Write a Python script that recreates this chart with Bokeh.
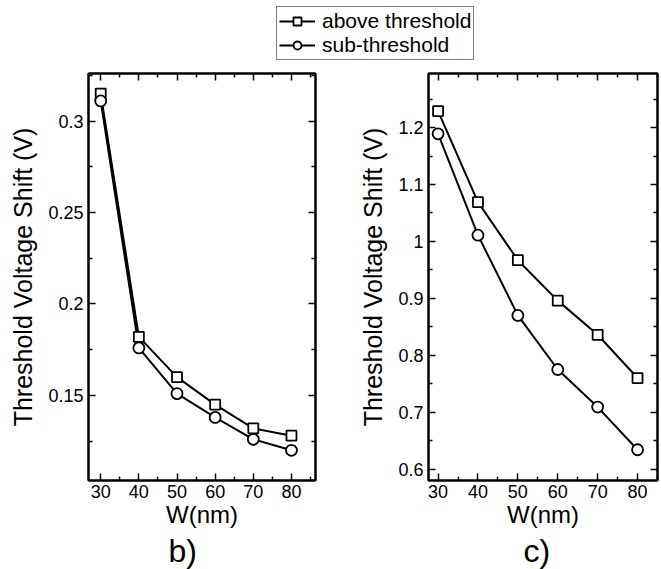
from bokeh.plotting import figure
from bokeh.models import (FixedTicker, LinearAxis, CustomJSTickFormatter, Legend,
                          LegendItem, Title, ColumnDataSource, Range1d)
from bokeh.layouts import column, row
from bokeh.embed import file_html
from bokeh.resources import INLINE

# ---- data ----
w_nm = [30, 40, 50, 60, 70, 80]
b_above = [0.315, 0.182, 0.160, 0.145, 0.132, 0.128]
b_sub = [0.311, 0.176, 0.151, 0.138, 0.126, 0.120]
c_above = [1.229, 1.069, 0.967, 0.896, 0.836, 0.760]
c_sub = [1.189, 1.011, 0.870, 0.775, 0.709, 0.634]

x_major = [30, 40, 50, 60, 70, 80]
x_minor = [25, 35, 45, 55, 65, 75, 85]
b_y_major = [0.15, 0.2, 0.25, 0.3]
b_y_minor = [0.125, 0.175, 0.225, 0.275, 0.325]
c_y_major = [0.6, 0.7, 0.8, 0.9, 1.0, 1.1, 1.2]
c_y_minor = [0.55, 0.65, 0.75, 0.85, 0.95, 1.05, 1.15, 1.25]

series_labels = ["above threshold", "sub-threshold"]
x_label = "W(nm)"
y_label = "Threshold Voltage Shift (V)"
panel_labels = ["b)", "c)"]

FONT = "Liberation Sans"
num_fmt = CustomJSTickFormatter(code="return parseFloat(tick.toFixed(3)).toString();")
empty_fmt = CustomJSTickFormatter(code="return '';")


def style_axis(ax, ticker, labels=True):
    ax.ticker = ticker
    ax.axis_line_color = "black"
    ax.axis_line_width = 2
    ax.major_tick_in = 7
    ax.major_tick_out = 0
    ax.minor_tick_in = 4
    ax.minor_tick_out = 0
    ax.major_tick_line_color = "black"
    ax.minor_tick_line_color = "black"
    ax.major_tick_line_width = 1.5
    ax.minor_tick_line_width = 1.5
    if labels:
        ax.formatter = num_fmt
        ax.major_label_text_font = FONT
        ax.major_label_text_font_size = "18px"
        ax.major_label_text_color = "black"
        ax.major_label_standoff = 5
    else:
        ax.formatter = empty_fmt
        ax.major_label_text_font_size = "1px"
        ax.major_label_standoff = 0


def panel(x_rng, y_rng, y_major, y_minor, above, sub, plabel, label_offset,
          width, mbl, mbr):
    p = figure(width=width, height=503, x_range=Range1d(*x_rng), y_range=Range1d(*y_rng),
               toolbar_location=None, output_backend="svg",
               min_border_left=mbl, min_border_right=mbr, min_border_top=7,
               min_border_bottom=89)
    p.grid.visible = False
    p.outline_line_color = "black"
    p.outline_line_width = 2
    p.background_fill_color = "white"
    p.border_fill_color = "white"

    xt = FixedTicker(ticks=x_major, minor_ticks=x_minor)
    yt = FixedTicker(ticks=y_major, minor_ticks=y_minor)
    style_axis(p.xaxis[0], xt)
    style_axis(p.yaxis[0], yt)
    p.xaxis[0].axis_label = x_label
    p.yaxis[0].axis_label = y_label
    for ax in (p.xaxis[0], p.yaxis[0]):
        ax.axis_label_text_font = FONT
        ax.axis_label_text_font_style = "normal"
        ax.axis_label_text_color = "black"
    p.xaxis[0].axis_label_text_font_size = "24px"
    p.yaxis[0].axis_label_text_font_size = "25px"
    p.xaxis[0].axis_label_standoff = 0
    p.xaxis[0].major_label_standoff = 4
    p.yaxis[0].axis_label_standoff = 8

    top = LinearAxis()
    style_axis(top, FixedTicker(ticks=x_major, minor_ticks=x_minor), labels=False)
    p.add_layout(top, "above")
    right = LinearAxis()
    style_axis(right, FixedTicker(ticks=y_major, minor_ticks=y_minor), labels=False)
    p.add_layout(right, "right")

    src = ColumnDataSource(dict(x=w_nm, a=above, s=sub))
    p.line("x", "a", source=src, line_color="black", line_width=2)
    p.line("x", "s", source=src, line_color="black", line_width=2)
    p.scatter("x", "a", source=src, marker="square", size=10, line_color="black",
              line_width=1.8, fill_color="white")
    p.scatter("x", "s", source=src, marker="circle", size=11, line_color="black",
              line_width=1.8, fill_color="white")

    t = Title(text=plabel, align="left", offset=label_offset, text_font=FONT,
              text_font_size="32px", text_font_style="normal", text_color="black",
              standoff=0)
    p.add_layout(t, "below")
    return p


p1 = panel((26.8, 86.3), (0.1035, 0.326), b_y_major, b_y_minor, b_above, b_sub,
           panel_labels[0], 80, 330, 88, 15)
p2 = panel((27.6, 85.0), (0.58, 1.295), c_y_major, c_y_minor, c_above, c_sub,
           panel_labels[1], 95, 331, 98, 4)

# legend strip
lg = figure(width=661, height=66, x_range=(0, 1), y_range=(0, 1), toolbar_location=None,
            output_backend="svg", min_border=0)
lg.axis.visible = False
lg.grid.visible = False
lg.outline_line_color = None
dummy = ColumnDataSource(dict(x=[-5], y=[-5]))
la = lg.line("x", "y", source=dummy, line_color="black", line_width=1.8)
sa = lg.scatter("x", "y", source=dummy, marker="square", size=8, line_color="black",
                line_width=1.8, fill_color="white")
ls = lg.line("x", "y", source=dummy, line_color="black", line_width=1.8)
ss = lg.scatter("x", "y", source=dummy, marker="circle", size=9, line_color="black",
                line_width=1.8, fill_color="white")
legend = Legend(items=[LegendItem(label=series_labels[0], renderers=[la, sa]),
                       LegendItem(label=series_labels[1], renderers=[ls, ss])],
                location=(276, 6), orientation="vertical",
                label_text_font=FONT, label_text_font_size="21px", label_text_color="black",
                glyph_width=36, glyph_height=20, label_height=20, label_standoff=7,
                spacing=0, padding=2, margin=0,
                border_line_color="black", border_line_width=1.5,
                background_fill_color="white", background_fill_alpha=1)
lg.add_layout(legend, "center")

layout = column(lg, row(p1, p2, spacing=0), spacing=0)

open("out.html", "w").write(file_html(layout, INLINE))
